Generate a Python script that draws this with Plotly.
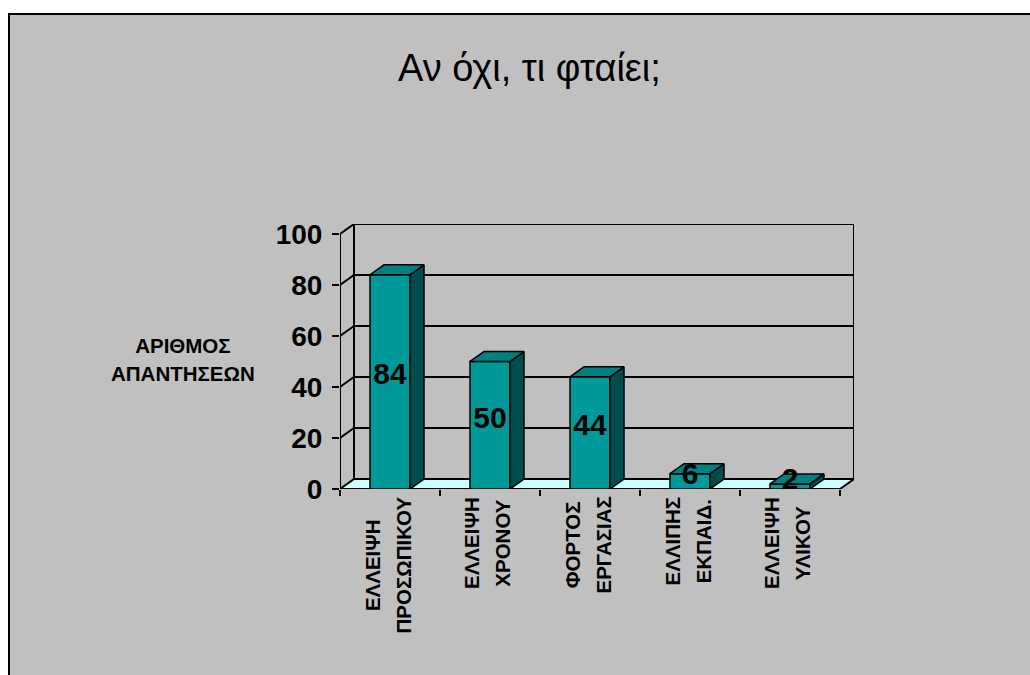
import plotly.graph_objects as go

# ---- data ----
categories = [
    "ΕΛΛΕΙΨΗ<br>ΠΡΟΣΩΠΙΚΟΥ",
    "ΕΛΛΕΙΨΗ<br>ΧΡΟΝΟΥ",
    "ΦΟΡΤΟΣ<br>ΕΡΓΑΣΙΑΣ",
    "ΕΛΛΙΠΗΣ<br>ΕΚΠΑΙΔ.",
    "ΕΛΛΕΙΨΗ<br>ΥΛΙΚΟΥ",
]
values = [84, 50, 44, 6, 2]
y_ticks = [0, 20, 40, 60, 80, 100]
title_text = "Αν όχι, τι φταίει;"
y_title = "ΑΡΙΘΜΟΣ<br>ΑΠΑΝΤΗΣΕΩΝ"

# ---- layout geometry ----
W, H = 1030, 675
ML, MR, MT, MB = 340, 176, 224, 186
PW = W - ML - MR
PH = H - MT - MB

DX = 0.14      # depth of the pseudo-3D box along x (category units)
DY = 3.9       # depth of the pseudo-3D box along y (value units)
BAR_W = 0.4
n = len(values)
x_lo, x_hi = -0.5, n - 0.5
y_top = max(y_ticks)

FONT = "Liberation Sans"
FRONT = "#009999"
TOP = "#008080"
SIDE = "#004d4d"
FLOOR = "#ccffff"
GRAY = "#c0c0c0"


def px_x(p):
    return (p - ML) / PW


def px_y(p):
    return (H - MB - p) / PH


def spaced(text, size):
    """Bold lines at `size` px; line pitch set by the annotation font size."""
    return "<br>".join(
        f'<span style="font-size:{size}px"><b>{s}</b></span>' for s in text.split("<br>")
    )


fig = go.Figure()


def poly(xs, ys, fill, width=2.0):
    fig.add_trace(go.Scatter(
        x=xs + [xs[0]], y=ys + [ys[0]], mode="lines", fill="toself",
        fillcolor=fill, line=dict(color="black", width=width),
        hoverinfo="skip", showlegend=False, cliponaxis=False,
    ))


# floor
poly([x_lo, x_hi, x_hi + DX, x_lo + DX], [0, 0, DY, DY], FLOOR)

# walls: gridlines on the back wall with their side-wall diagonals, plus outline
gx, gy = [], []
for v in y_ticks[1:]:
    gx += [x_lo, x_lo + DX, x_hi + DX, None]
    gy += [v, v + DY, v + DY, None]
gx += [x_lo + DX, x_lo + DX, None, x_hi + DX, x_hi + DX, None, x_lo, x_lo, None]
gy += [DY, y_top + DY, None, DY, y_top + DY, None, 0, y_top, None]
fig.add_trace(go.Scatter(
    x=gx, y=gy, mode="lines", line=dict(color="black", width=2),
    hoverinfo="skip", showlegend=False, cliponaxis=False,
))

# bars: front, side and top faces
for i, v in enumerate(values):
    l, r = i - BAR_W / 2, i + BAR_W / 2
    poly([l, r, r, l], [0, 0, v, v], FRONT, 1.5)
    poly([r, r + DX, r + DX, r], [0, DY, v + DY, v], SIDE, 1.5)
    poly([l, r, r + DX, l + DX], [v, v, v + DY, v + DY], TOP, 1.5)

# value labels
fig.add_trace(go.Scatter(
    x=list(range(n)), y=[v / 2 + 2 for v in values], mode="text",
    text=[str(v) for v in values],
    textfont=dict(family=FONT, size=30, color="black", weight="bold"),
    hoverinfo="skip", showlegend=False, cliponaxis=False,
))

annotations = []
# category labels, rotated
for i, c in enumerate(categories):
    annotations.append(dict(
        x=i - 0.03, xref="x", y=px_y(495), yref="paper", text=spaced(c, 20.5),
        showarrow=False, textangle=-90, xanchor="center", yanchor="top",
        align="center", font=dict(family=FONT, size=24, color="black"),
    ))

# y-axis title
annotations.append(dict(
    x=px_x(183), xref="paper", y=px_y(359), yref="paper", text=spaced(y_title, 20.5),
    showarrow=False, xanchor="center", yanchor="middle", align="center",
    font=dict(family=FONT, size=21.5, color="black"),
))

# chart title
annotations.append(dict(
    x=px_x(529), xref="paper", y=px_y(68), yref="paper", text=title_text,
    showarrow=False, xanchor="center", yanchor="middle",
    font=dict(family=FONT, size=38, color="black"),
))

fig.update_layout(
    width=W, height=H,
    margin=dict(l=ML, r=MR, t=MT, b=MB, pad=0),
    paper_bgcolor="white",
    plot_bgcolor="rgba(0,0,0,0)",
    showlegend=False,
    annotations=annotations,
    shapes=[dict(
        type="rect", xref="paper", yref="paper", layer="below",
        x0=px_x(9), x1=px_x(1040), y0=px_y(680), y1=px_y(14),
        fillcolor=GRAY, line=dict(color="black", width=2),
    )],
    xaxis=dict(
        range=[x_lo, x_hi + DX], tickvals=[k - 0.5 for k in range(n + 1)],
        showticklabels=False, ticks="outside", ticklen=6, tickwidth=2,
        tickcolor="black", showgrid=False, zeroline=False, showline=False,
        fixedrange=True,
    ),
    yaxis=dict(
        range=[0, y_top + DY], tickvals=y_ticks, ticks="outside", ticklen=7,
        tickwidth=2, tickcolor="black", showgrid=False, zeroline=False,
        showline=False, fixedrange=True, ticklabelstandoff=4,
        tickfont=dict(family=FONT, size=28, color="black", weight="bold"),
    ),
)

fig.write_html("out.html")
